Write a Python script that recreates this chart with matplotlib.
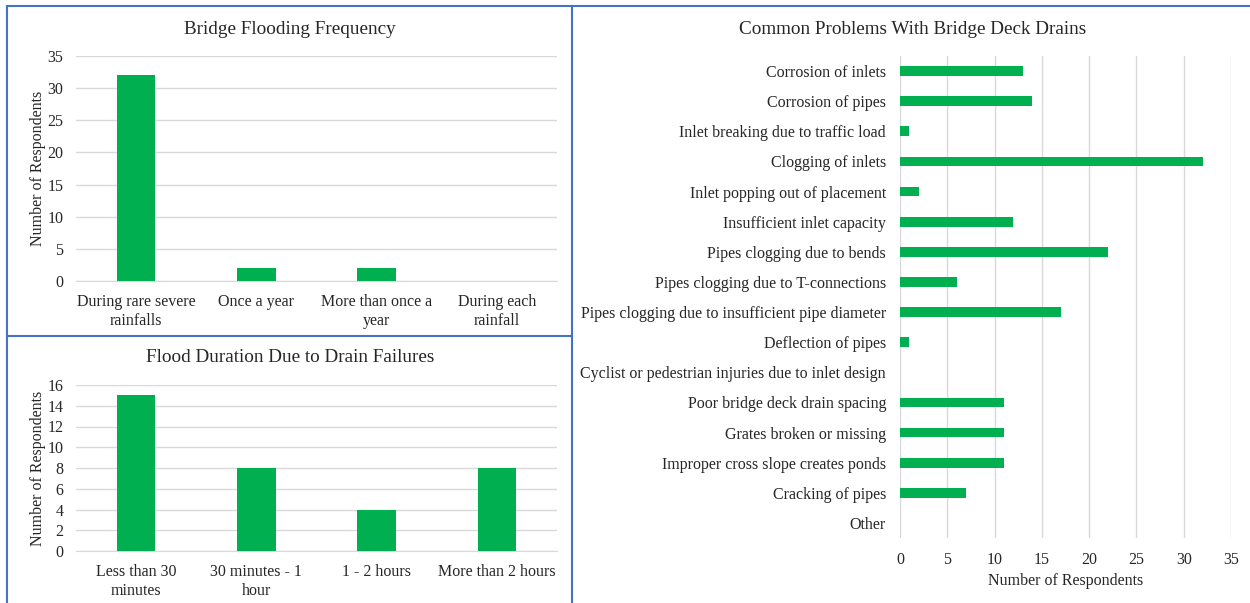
import numpy as np
import matplotlib.pyplot as plt
from matplotlib.lines import Line2D

plt.rcParams['font.family'] = ['Liberation Serif', 'DejaVu Serif']

# data
freq_labels = ['During rare severe\nrainfalls', 'Once a year', 'More than once a\nyear', 'During each\nrainfall']
freq_values = [32, 2, 2, 0]

dur_labels = ['Less than 30\nminutes', '30 minutes - 1\nhour', '1 - 2 hours', 'More than 2 hours']
dur_values = [15, 8, 4, 8]

prob_labels = ['Corrosion of inlets', 'Corrosion of pipes', 'Inlet breaking due to traffic load',
               'Clogging of inlets', 'Inlet popping out of placement', 'Insufficient inlet capacity',
               'Pipes clogging due to bends', 'Pipes clogging due to T-connections',
               'Pipes clogging due to insufficient pipe diameter', 'Deflection of pipes',
               'Cyclist or pedestrian injuries due to inlet design', 'Poor bridge deck drain spacing',
               'Grates broken or missing', 'Improper cross slope creates ponds', 'Cracking of pipes', 'Other']
prob_values = [13, 14, 1, 32, 2, 12, 22, 6, 17, 1, 0, 11, 11, 11, 7, 0]

GREEN = '#00B050'
GRID = '#D9D9D9'
TXT = '#262626'
BORDER = '#4472C4'
FS = 11.5
W, H = 1250, 603

fig = plt.figure(figsize=(W / 100, H / 100), dpi=100)


def px_axes(left, top, right, bottom):
    return fig.add_axes([left / W, 1 - bottom / H, (right - left) / W, (bottom - top) / H])


def column_chart(ax, labels, values, ymax, step, title, title_y):
    x = np.arange(len(labels))
    ax.bar(x, values, width=0.32, color=GREEN, zorder=3)
    ax.set_xlim(-0.5, len(labels) - 0.5)
    ax.set_ylim(0, ymax)
    ax.set_yticks(np.arange(0, ymax + 1, step))
    ax.set_xticks(x)
    ax.set_xticklabels(labels, fontsize=FS, color=TXT, linespacing=1.3)
    ax.tick_params(axis='y', labelsize=FS, labelcolor=TXT, length=0, pad=9)
    ax.tick_params(axis='x', length=0, pad=9)
    ax.grid(axis='y', color=GRID, linewidth=1, zorder=0)
    for s in ['top', 'right', 'left']:
        ax.spines[s].set_visible(False)
    ax.spines['bottom'].set_color(GRID)
    ax.set_ylabel('Number of Respondents', fontsize=FS, color=TXT, labelpad=1)
    fig.text(290 / W, 1 - title_y / H, title, ha='center', va='center', fontsize=13.8, color=TXT)


ax1 = px_axes(76, 56, 557, 281)
column_chart(ax1, freq_labels, freq_values, 35, 5, 'Bridge Flooding Frequency', 29)

ax2 = px_axes(76, 385, 557, 551)
column_chart(ax2, dur_labels, dur_values, 16, 2, 'Flood Duration Due to Drain Failures', 357)

# horizontal bar chart
ax3 = px_axes(900, 56, 1231, 538)
y = np.arange(len(prob_labels))
ax3.barh(y, prob_values, height=0.32, color=GREEN, zorder=3)
ax3.set_ylim(len(prob_labels) - 0.5, -0.5)
ax3.set_xlim(0, 35)
ax3.set_xticks(np.arange(0, 36, 5))
ax3.set_yticks(y)
ax3.set_yticklabels(prob_labels, fontsize=FS, color=TXT)
ax3.tick_params(axis='x', labelsize=FS, labelcolor=TXT, length=0, pad=10)
ax3.tick_params(axis='y', length=0, pad=10)
ax3.grid(axis='x', color=GRID, linewidth=1, zorder=0)
for s in ax3.spines.values():
    s.set_visible(False)
ax3.set_xlabel('Number of Respondents', fontsize=FS, color=TXT, labelpad=4)
fig.text(913 / W, 1 - 29 / H, 'Common Problems With Bridge Deck Drains',
         ha='center', va='center', fontsize=13.8, color=TXT)

# panel borders
def seg(x0, y0, x1, y1):
    fig.add_artist(Line2D([x0 / W, x1 / W], [1 - y0 / H, 1 - y1 / H], color=BORDER, linewidth=1.5))

seg(7, 6, 1250, 6)
seg(7, 6, 7, 603)
seg(572, 6, 572, 603)
seg(7, 336, 572, 336)

fig.savefig('out.png', dpi=100, facecolor='white')
